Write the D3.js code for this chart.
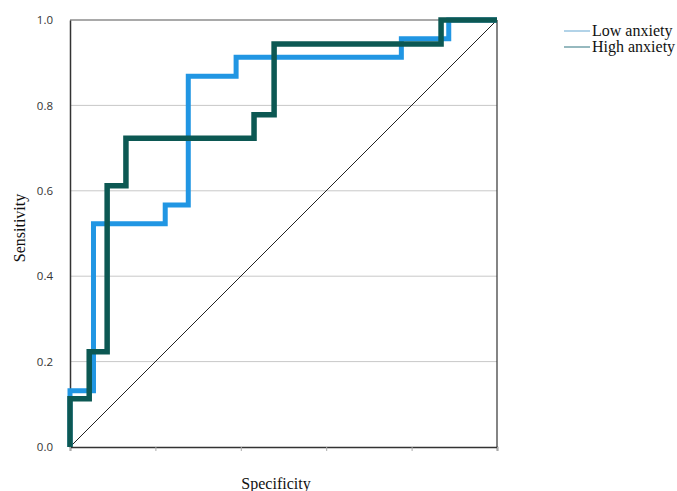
<!DOCTYPE html>
<html><head><meta charset="utf-8">
<script src="https://cdn.jsdelivr.net/npm/d3@7"></script>
<style>body{margin:0;background:#fff}</style>
</head><body>
<svg id="c" width="677" height="491"></svg>
<script>
// Data (1 - specificity on x, sensitivity on y), step points
const lowAnxietyX = [0, 0, 0.055, 0.055, 0.223, 0.223, 0.277, 0.277, 0.389, 0.389, 0.776, 0.776, 0.887, 0.887, 1.0];
const lowAnxietyY = [0, 0.132, 0.132, 0.523, 0.523, 0.567, 0.567, 0.868, 0.868, 0.913, 0.913, 0.956, 0.956, 1.0, 1.0];
const highAnxietyX = [0, 0, 0.045, 0.045, 0.087, 0.087, 0.131, 0.131, 0.431, 0.431, 0.478, 0.478, 0.869, 0.869, 1.0];
const highAnxietyY = [0, 0.113, 0.113, 0.223, 0.223, 0.612, 0.612, 0.723, 0.723, 0.778, 0.778, 0.944, 0.944, 1.0, 1.0];
const yTicks = [0, 0.2, 0.4, 0.6, 0.8, 1.0];
const xTicks = [0, 0.2, 0.4, 0.6, 0.8, 1.0];
const seriesNames = ["Low anxiety", "High anxiety"];

const svg = d3.select("#c");
const x = d3.scaleLinear().domain([0, 1]).range([70, 497]);
const y = d3.scaleLinear().domain([0, 1]).range([447, 20]);

// gridlines
svg.append("g").selectAll("line").data(yTicks.filter(d => d > 0 && d < 1)).join("line")
  .attr("x1", x(0)).attr("x2", x(1)).attr("y1", d => y(d)).attr("y2", d => y(d))
  .attr("stroke", "#c8c8c8").attr("stroke-width", 1);

// frame top/right
svg.append("line").attr("x1", x(0)).attr("x2", x(1)).attr("y1", y(1)).attr("y2", y(1)).attr("stroke", "#555").attr("stroke-width", 1.2);
svg.append("line").attr("x1", x(1)).attr("x2", x(1)).attr("y1", y(0)).attr("y2", y(1)).attr("stroke", "#333").attr("stroke-width", 1.2);

// y axis
const ya = svg.append("g").attr("transform", `translate(${x(0)},0)`)
  .call(d3.axisLeft(y).tickValues(yTicks).tickFormat(d3.format(".1f")).tickSize(0).tickPadding(17));
ya.select(".domain").attr("stroke", "#333").attr("stroke-width", 1.5);
ya.selectAll("text").attr("font-family", "'Open Sans', sans-serif").attr("font-size", 11.5).attr("fill", "#333");

// x axis
const xa = svg.append("g").attr("transform", `translate(0,${y(0)})`)
  .call(d3.axisBottom(x).tickValues(xTicks).tickFormat("").tickSize(4));
xa.select(".domain").attr("stroke", "#333").attr("stroke-width", 1.5);
xa.selectAll(".tick line").attr("stroke", "#aaa");

// diagonal
svg.append("line").attr("x1", x(0)).attr("y1", y(0)).attr("x2", x(1)).attr("y2", y(1))
  .attr("stroke", "#222").attr("stroke-width", 1);

const line = d3.line().x(d => x(d[0])).y(d => y(d[1]));
svg.append("path").datum(lowAnxietyX.map((v, i) => [v, lowAnxietyY[i]]))
  .attr("d", line).attr("fill", "none").attr("stroke", "#2196e3").attr("stroke-width", 5).attr("stroke-linejoin", "miter");
svg.append("path").datum(highAnxietyX.map((v, i) => [v, highAnxietyY[i]]))
  .attr("d", line).attr("fill", "none").attr("stroke", "#0c5853").attr("stroke-width", 5.5).attr("stroke-linejoin", "miter");

// axis titles
svg.append("text").attr("x", 276).attr("y", 489).attr("text-anchor", "middle")
  .attr("font-family", "'Liberation Serif', serif").attr("font-size", 16).attr("fill", "#111").text("Specificity");
svg.append("text").attr("transform", "translate(25,228) rotate(-90)").attr("text-anchor", "middle")
  .attr("font-family", "'Liberation Serif', serif").attr("font-size", 16).attr("fill", "#111").text("Sensitivity");

// legend
const legColors = ["#7fb6d9", "#4f8a94"];
const lg = svg.append("g");
seriesNames.forEach((n, i) => {
  const yy = 31 + i * 16;
  lg.append("line").attr("x1", 564).attr("x2", 590).attr("y1", yy).attr("y2", yy).attr("stroke", legColors[i]).attr("stroke-width", 1.2);
  lg.append("text").attr("x", 592).attr("y", yy + 5).attr("font-family", "'Liberation Serif', serif")
    .attr("font-size", 16).attr("fill", "#111").text(n);
});
</script>
</body></html>
